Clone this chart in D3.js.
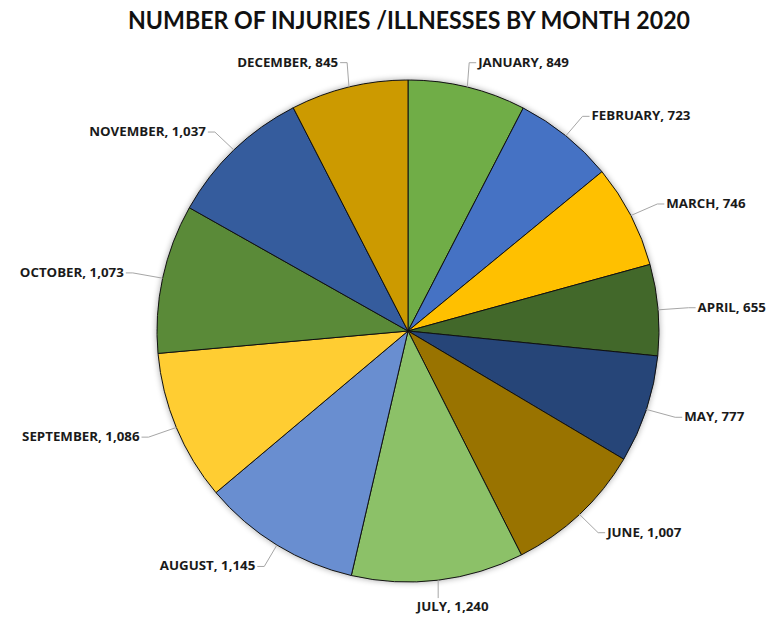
<!DOCTYPE html>
<html>
<head>
<meta charset="utf-8">
<script src="https://cdn.jsdelivr.net/npm/d3@7"></script>
<style>
  body { margin: 0; background: #fff; }
  .title { font-family: Lato, "Open Sans", sans-serif; font-weight: bold; fill: #111; }
  .lbl { font-family: "Open Sans", Lato, sans-serif; font-weight: bold; font-size: 12px; fill: #1a1a1a; }
</style>
</head>
<body>
<div id="chart"></div>
<script>
// data
var months = ["JANUARY", "FEBRUARY", "MARCH", "APRIL", "MAY", "JUNE",
  "JULY", "AUGUST", "SEPTEMBER", "OCTOBER", "NOVEMBER", "DECEMBER"];
var counts = [849, 723, 746, 655, 777, 1007, 1240, 1145, 1086, 1073, 1037, 845];
var colors = ["#70AD47", "#4472C4", "#FFC000", "#43682B", "#264478", "#997300",
  "#8CC168", "#698ED0", "#FFCD33", "#5A8A39", "#365B9D", "#CC9A00"];

var svgWidth = 783;
var svgHeight = 618;
var cx = 408, cy = 331, radius = 251;

var svg = d3.select("#chart")
  .append("svg")
  .attr("width", svgWidth)
  .attr("height", svgHeight);

// soft shadow round the pie
var defs = svg.append("defs");
var filt = defs.append("filter").attr("id", "glow")
  .attr("x", "-10%").attr("y", "-10%").attr("width", "120%").attr("height", "120%");
filt.append("feGaussianBlur").attr("in", "SourceAlpha").attr("stdDeviation", 3);
filt.append("feComponentTransfer").append("feFuncA").attr("type", "linear").attr("slope", 0.35);
var merge = filt.append("feMerge");
merge.append("feMergeNode");
merge.append("feMergeNode").attr("in", "SourceGraphic");

svg.append("text")
  .attr("class", "title")
  .attr("x", 409)
  .attr("y", 29)
  .attr("text-anchor", "middle")
  .attr("font-size", "24px")
  .attr("textLength", 562)
  .attr("lengthAdjust", "spacingAndGlyphs")
  .text("NUMBER OF INJURIES /ILLNESSES BY MONTH 2020");

var data = months.map(function(m, i) { return { month: m, value: counts[i], color: colors[i] }; });

var pie = d3.pie().sort(null).value(d => d.value);
var arcs = pie(data);

var arc = d3.arc().innerRadius(0).outerRadius(radius);

var g = svg.append("g").attr("transform", `translate(${cx}, ${cy})`);

g.append("g").attr("filter", "url(#glow)")
  .selectAll("path")
  .data(arcs)
  .enter()
  .append("path")
  .attr("d", arc)
  .attr("fill", d => d.data.color)
  .attr("stroke", "#111")
  .attr("stroke-width", 1);

// labels sit on an ellipse just outside the pie, with elbow leader lines
var rx = radius * 1.15, ry = radius * 1.1;
var fmt = d3.format(",");

arcs.forEach(function(d) {
  var a = (d.startAngle + d.endAngle) / 2;
  var s = Math.sin(a), c = -Math.cos(a);
  var edge = [radius * s, radius * c];
  var anchor = [rx * s, ry * c];
  var txt = d.data.month + ", " + fmt(d.data.value);
  var pts, tx, ty, ta;
  if (Math.abs(s) < 0.2 && c > 0) {
    // bottom label: straight down, text centred under it
    pts = [edge, [edge[0], anchor[1] - 7]];
    tx = anchor[0] + 10; ty = anchor[1] + 6; ta = "middle";
  } else {
    var dir = s >= 0 ? 1 : -1;
    pts = [edge, [anchor[0] - dir * 7, anchor[1]], anchor];
    tx = anchor[0] + dir * 2; ty = anchor[1] + 4; ta = s >= 0 ? "start" : "end";
  }
  g.append("path")
    .attr("d", d3.line()(pts))
    .attr("fill", "none")
    .attr("stroke", "#a6a6a6")
    .attr("stroke-width", 1);
  g.append("text")
    .attr("class", "lbl")
    .attr("transform", `translate(${tx}, ${ty}) scale(1.11, 1)`)
    .attr("text-anchor", ta)
    .text(txt);
});
</script>
</body>
</html>
